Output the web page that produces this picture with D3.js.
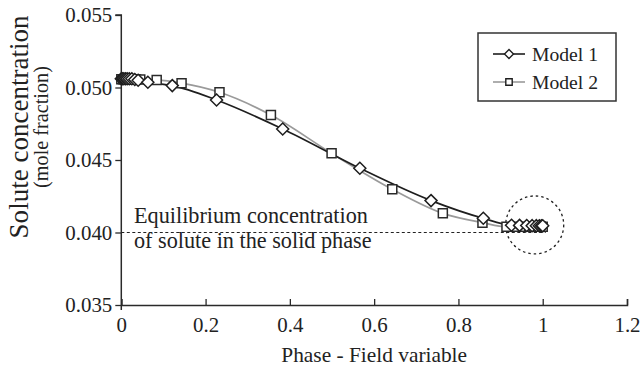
<!DOCTYPE html>
<html>
<head>
<meta charset="utf-8">
<script src="https://cdn.jsdelivr.net/npm/d3@7"></script>
<style>
  html, body { margin: 0; padding: 0; background: #fff; }
  svg { display: block; font-family: "Liberation Serif", "DejaVu Serif", serif; }
  svg text { font-family: "Liberation Serif", "DejaVu Serif", serif; }
</style>
</head>
<body>
<svg id="chart" width="644" height="372"></svg>
<script>
// ---- data ----
const model1X = [0, 0.003, 0.006, 0.01, 0.014, 0.019, 0.025, 0.032, 0.04, 0.063, 0.121, 0.226, 0.383, 0.566, 0.735, 0.859, 0.926, 0.945, 0.962, 0.975, 0.985, 0.992, 0.997, 1.0];
const model1Y = [0.0506, 0.0506, 0.0506, 0.0506, 0.0506, 0.0506, 0.0506, 0.05055, 0.0505, 0.05036, 0.05013, 0.04914, 0.04714, 0.04443, 0.0422, 0.04098, 0.0405, 0.04049, 0.04048, 0.04047, 0.04047, 0.04046, 0.04046, 0.04046];
const model2X = [0, 0.004, 0.008, 0.012, 0.017, 0.022, 0.028, 0.035, 0.045, 0.084, 0.143, 0.233, 0.355, 0.499, 0.643, 0.763, 0.857, 0.914, 0.938, 0.955, 0.968, 0.979, 0.988, 0.995, 1.0];
const model2Y = [0.05057, 0.05057, 0.05057, 0.05057, 0.05057, 0.05057, 0.05056, 0.05056, 0.05055, 0.05052, 0.0503, 0.04967, 0.0481, 0.04546, 0.04298, 0.04132, 0.04068, 0.0404, 0.0404, 0.0404, 0.0404, 0.0404, 0.0404, 0.0404, 0.0404];
const xTicks = [0, 0.2, 0.4, 0.6, 0.8, 1, 1.2];
const yTicks = [0.035, 0.040, 0.045, 0.050, 0.055];
const seriesNames = ["Model 1", "Model 2"];
const equilibriumValue = 0.0400;
const equilibriumLabel = ["Equilibrium concentration", "of solute in the solid phase"];
const circleCenter = [0.981, 0.04052];
const xTitle = "Phase - Field variable";
const yTitle = ["Solute concentration", "(mole fraction)"];

// ---- helper: size a text so its rendered width matches the reference width ----
function fitSize(sel, targetWidth) {
  sel.style("font-size", "20px");
  const w = sel.node().getComputedTextLength();
  const s = w > 0 ? 20 * targetWidth / w : 20;
  sel.style("font-size", s + "px");
  return s;
}

// ---- scales ----
const svg = d3.select("#chart");
const x = d3.scaleLinear().domain([0, 1.2]).range([121.3, 627]);
const y = d3.scaleLinear().domain([0.035, 0.055]).range([305, 15]);
const axisColor = "#2a2a2a";

// ---- axes ----
const xAxis = svg.append("g").attr("transform", `translate(0,${y(0.035)})`)
  .call(d3.axisBottom(x).tickValues(xTicks).tickSize(-6).tickPadding(12)
    .tickFormat(d => d3.format("")(+d.toFixed(1))));
const yAxis = svg.append("g").attr("transform", `translate(${x(0)},0)`)
  .call(d3.axisLeft(y).tickValues(yTicks).tickSize(6).tickPadding(3)
    .tickFormat(d3.format(".3f")));
[xAxis, yAxis].forEach(g => {
  g.attr("font-family", null);
  g.select(".domain").attr("stroke", axisColor).attr("stroke-width", 1.5);
  g.selectAll(".tick line").attr("stroke", axisColor).attr("stroke-width", 1.3);
  g.selectAll(".tick text").attr("fill", "#222");
});
const tickSize = fitSize(yAxis.select(".tick text"), 47);
svg.selectAll(".tick text").style("font-size", tickSize + "px");
xAxis.selectAll(".tick text").attr("dy", "0.71em");
yAxis.select(".domain").attr("d", `M-6,${y(0.055)}H0V${y(0.035) + 5}`);

// ---- axis titles ----
const xt = svg.append("text").attr("x", x(0.6)).attr("y", 362)
  .attr("text-anchor", "middle").attr("fill", "#222").text(xTitle);
fitSize(xt, 186);
const yTitleWidths = [223, 122];
const yTitleBase = [28, 48];
yTitle.forEach((t, i) => {
  const yt = svg.append("text")
    .attr("transform", `translate(${yTitleBase[i]},127) rotate(-90)`)
    .attr("text-anchor", "middle").attr("fill", "#222").text(t);
  fitSize(yt, yTitleWidths[i]);
});

// ---- equilibrium dashed line + label ----
svg.append("line")
  .attr("x1", x(0)).attr("x2", x(1.0) + 3)
  .attr("y1", y(equilibriumValue)).attr("y2", y(equilibriumValue))
  .attr("stroke", "#222").attr("stroke-width", 1.2).attr("stroke-dasharray", "3,2.5");
const eqTexts = equilibriumLabel.map((t, i) =>
  svg.append("text").attr("x", 134).attr("y", 223 + i * 25).attr("fill", "#222").text(t));
const eqSize = fitSize(eqTexts[0], 234);
eqTexts[1].style("font-size", eqSize + "px");

// ---- dotted circle ----
svg.append("circle")
  .attr("cx", x(circleCenter[0])).attr("cy", y(circleCenter[1])).attr("r", 29)
  .attr("fill", "none").attr("stroke", "#222").attr("stroke-width", 1.3)
  .attr("stroke-dasharray", "2.5,3");

// ---- lines ----
const m1 = model1X.map((v, i) => [v, model1Y[i]]);
const m2 = model2X.map((v, i) => [v, model2Y[i]]);
const line = d3.line().x(d => x(d[0])).y(d => y(d[1])).curve(d3.curveMonotoneX);
svg.append("path").datum(m2).attr("d", line)
  .attr("fill", "none").attr("stroke", "#9a9a9a").attr("stroke-width", 1.7);
svg.append("path").datum(m1).attr("d", line)
  .attr("fill", "none").attr("stroke", "#1e1e1e").attr("stroke-width", 1.7);

// ---- markers ----
const diamond = s => `M0,${-s}L${s},0L0,${s}L${-s},0Z`;
const square = s => `M${-s},${-s}H${s}V${s}H${-s}Z`;
svg.append("g").selectAll("path").data(m2).join("path")
  .attr("transform", d => `translate(${x(d[0])},${y(d[1])})`)
  .attr("d", square(4.5)).attr("fill", "#fff").attr("stroke", "#2a2a2a").attr("stroke-width", 1.5);
svg.append("g").selectAll("path").data(m1).join("path")
  .attr("transform", d => `translate(${x(d[0])},${y(d[1])})`)
  .attr("d", diamond(6)).attr("fill", "#fff").attr("stroke", "#1e1e1e").attr("stroke-width", 1.5);

// ---- legend ----
const lg = svg.append("g");
lg.append("rect").attr("x", 478).attr("y", 33).attr("width", 138).attr("height", 68)
  .attr("fill", "#fff").attr("stroke", "#333").attr("stroke-width", 1.5);
const legendRows = [
  { name: seriesNames[0], color: "#1e1e1e", shape: diamond(4.5) },
  { name: seriesNames[1], color: "#9a9a9a", shape: square(3.2) }
];
let legendSize = null;
legendRows.forEach((r, i) => {
  const cy = 54 + i * 28;
  lg.append("line").attr("x1", 493).attr("x2", 525).attr("y1", cy).attr("y2", cy)
    .attr("stroke", r.color).attr("stroke-width", 1.6);
  lg.append("path").attr("transform", `translate(509,${cy})`).attr("d", r.shape)
    .attr("fill", "#fff").attr("stroke", "#1e1e1e").attr("stroke-width", 1.4);
  const lt = lg.append("text").attr("x", 532).attr("y", cy + 6.5).attr("fill", "#222").text(r.name);
  if (legendSize === null) legendSize = fitSize(lt, 66);
  else lt.style("font-size", legendSize + "px");
});
</script>
</body>
</html>
